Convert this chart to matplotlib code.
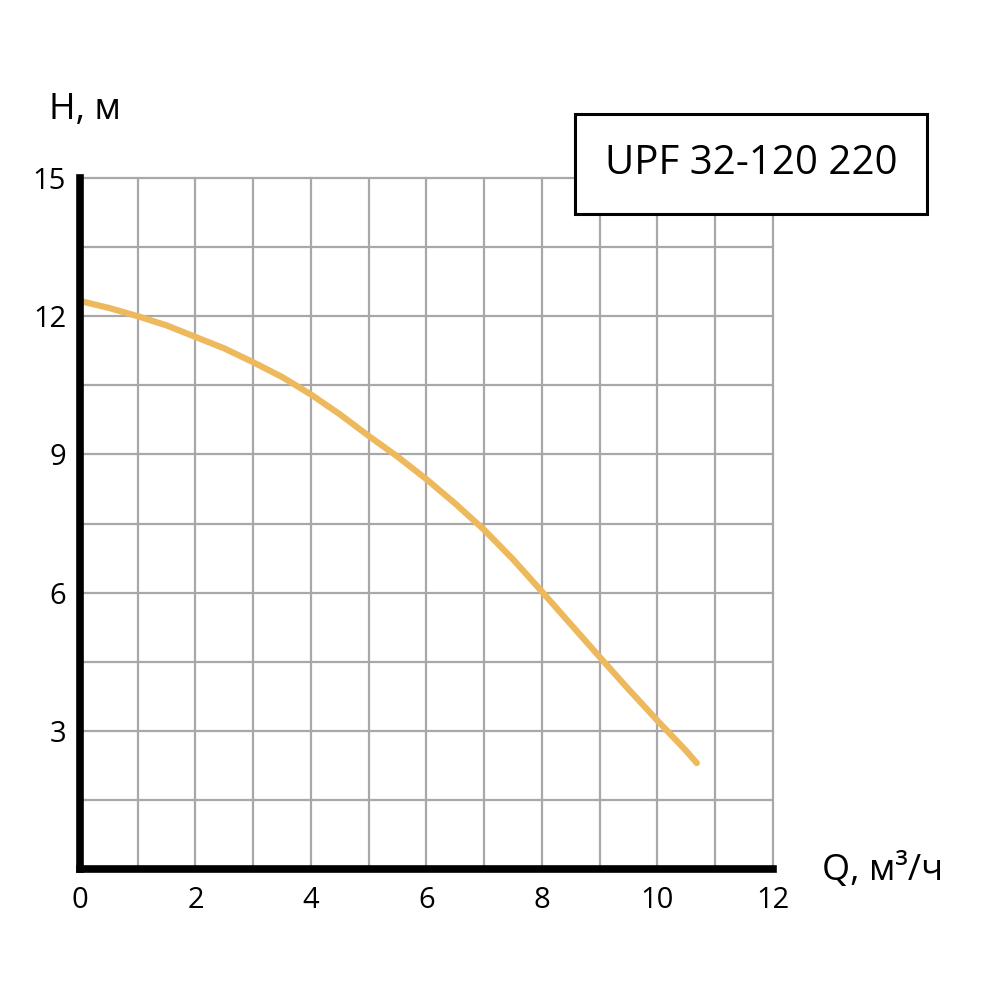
"""pump curve chart for UPF 32-120 220."""
import matplotlib
matplotlib.use("Agg")
import matplotlib.pyplot as plt
import numpy as np

plt.rcParams["font.family"] = ["Open Sans", "DejaVu Sans"]

# head curve (every half m3/h)
flow_q = [0, 0.5, 1, 1.5, 2, 2.5, 3, 3.5, 4, 4.5, 5, 5.5, 6, 6.5, 7,
          7.5, 8, 8.5, 9, 9.5, 10, 10.5, 10.68]
head_h = [12.33, 12.18, 12.0, 11.8, 11.55, 11.3, 11.0, 10.68, 10.3, 9.87,
          9.4, 8.95, 8.46, 7.93, 7.36, 6.72, 6.02, 5.31, 4.6, 3.9, 3.22,
          2.56, 2.3]

x_ticks = [0, 2, 4, 6, 8, 10, 12]
y_ticks = [3, 6, 9, 12, 15]
model_name = "UPF 32-120 220"

fig = plt.figure(figsize=(10, 10), dpi=100)
ax = fig.add_axes([0.08, 0.131, 0.693, 0.691])

ax.set_xlim(0, 12)
ax.set_ylim(0, 15)
ax.set_xticks(np.arange(0, 12.1, 1), minor=True)
ax.set_yticks(np.arange(0, 15.1, 1.5), minor=True)
ax.set_xticks(x_ticks)
ax.set_yticks(y_ticks)
ax.grid(which="both", color="#a8a8a8", linewidth=1.6)
ax.set_axisbelow(True)
# keep the edge grid lines (top, right) at full width
for gl in ax.get_xgridlines() + ax.get_ygridlines():
    gl.set_clip_on(False)
for gl in ax.xaxis.get_minorticklines():
    pass

ax.tick_params(which="both", length=0, labelsize=21, pad=12)
ax.tick_params(axis="y", pad=10)

for side in ("top", "right"):
    ax.spines[side].set_visible(False)
for side in ("left", "bottom"):
    ax.spines[side].set_linewidth(5.5)
    ax.spines[side].set_color("black")
    ax.spines[side].set_capstyle("projecting")

ax.plot(flow_q, head_h, color="#EDB95C", linewidth=4.5,
        solid_capstyle="round", solid_joinstyle="round", clip_on=False)

fig.text(0.085, 0.89, "H, м", fontsize=26, ha="center", va="center")
fig.text(0.883, 0.129, "Q, м³/ч", fontsize=26, ha="center", va="center")

fig.text(0.751, 0.836, model_name, fontsize=29, ha="center", va="center",
         bbox=dict(boxstyle="square,pad=0.75", facecolor="white",
                   edgecolor="black", linewidth=2.2))

fig.savefig("out.png", dpi=100, facecolor="white")
